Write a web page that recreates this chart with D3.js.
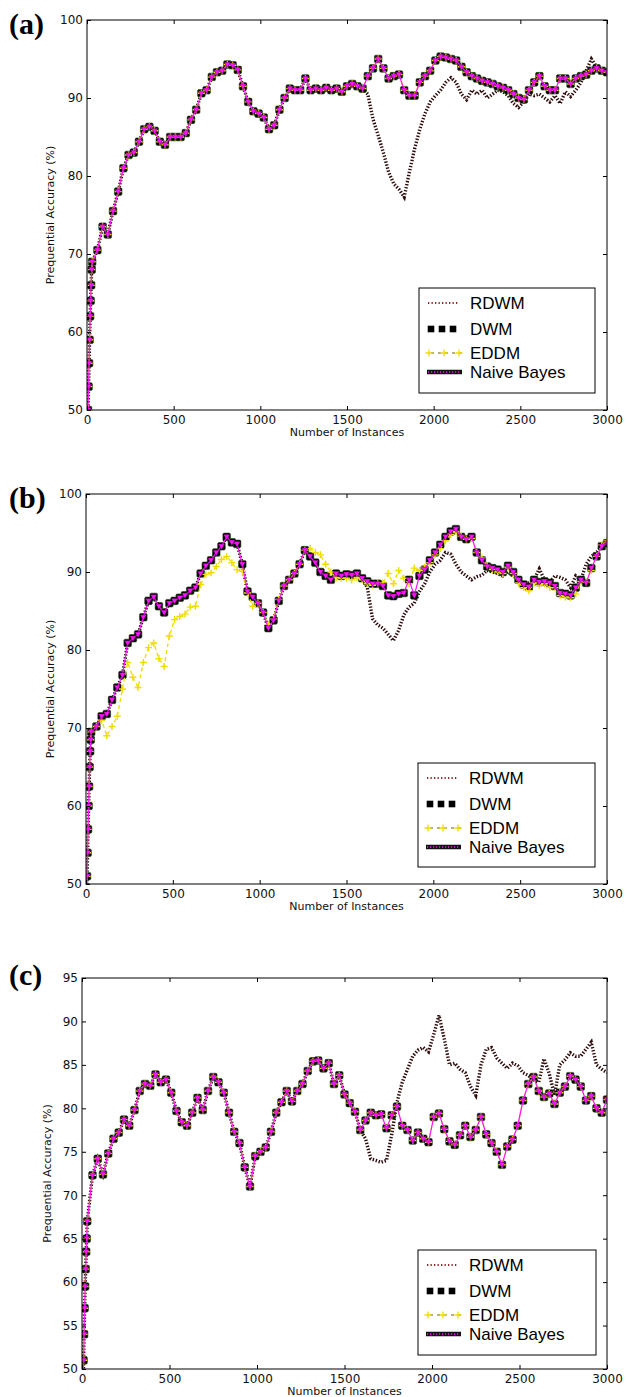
<!DOCTYPE html>
<html>
<head>
<meta charset="utf-8">
<script src="https://cdn.jsdelivr.net/npm/d3@7"></script>
<style>
  body { margin: 0; background: #fff; }
  svg { display: block; }
</style>
</head>
<body>
<svg id="fig" width="627" height="1397"></svg>
<script>
// Sample positions (number of instances seen) shared by every series
const instances = [3, 6, 9, 12, 15, 18, 21, 24, 27].concat(d3.range(30, 3001, 30));

const xTicks = [0, 500, 1000, 1500, 2000, 2500, 3000];
const yTicksAB = [50, 60, 70, 80, 90, 100];
const yTicksC = [50, 55, 60, 65, 70, 75, 80, 85, 90, 95];
const seriesNames = ["RDWM", "DWM", "EDDM", "Naive Bayes"];
const panelLabels = ["(a)", "(b)", "(c)"];
const xTitle = "Number of Instances";
const yTitle = "Prequential Accuracy (%)";

// ---- panel (a): prequential accuracy (%) ----
const dwmA = [
  45, 50, 53, 56, 59, 62, 64, 66, 68,
  69, 70.5, 73.5, 72.5, 75.5, 78, 81, 82.7, 83, 84.4,
  86, 86.3, 85.8, 84.4, 84, 85, 85, 85, 85.5, 87.2,
  88.5, 90.6, 91, 92.7, 93.3, 93.5, 94.3, 94.2, 93.6, 91.5,
  89.5, 88.3, 88, 87.5, 86, 86.5, 88.5, 90, 91.2, 91,
  91, 92.5, 91, 91.2, 91, 91.3, 91, 91.2, 90.8, 91.5,
  91.8, 91.5, 91.2, 92.8, 93.8, 95, 93.8, 92.5, 92.8, 93,
  91, 90.3, 90.3, 92, 92.8, 93.5, 94.8, 95.3, 95.2, 95,
  94.8, 94, 93.3, 92.8, 92.5, 92.2, 92, 91.8, 91.5, 91.3,
  91, 90.5, 90, 89.8, 91, 92, 92.8, 91.5, 91, 91,
  92.5, 92.5, 91.8, 92.5, 92.8, 93, 93.5, 93.8, 93.5, 93.3
];
const rdwmA = [
  45, 50, 53, 56, 59, 62, 64, 66, 68,
  69, 70.5, 73.5, 72.5, 75.5, 78, 81, 82.7, 83, 84.4,
  86, 86.3, 85.8, 84.4, 84, 85, 85, 85, 85.5, 87.2,
  88.5, 90.6, 91, 92.7, 93.3, 93.5, 94.3, 94.2, 93.6, 91.5,
  89.5, 88.3, 88, 87.5, 86, 86.5, 88.5, 90, 91.2, 91,
  91, 92.5, 91, 91.2, 91, 91.3, 91, 91.2, 90.8, 91.5,
  91.8, 91.5, 91.2, 90.5, 87.3, 85.2, 83, 80.5, 79, 78.3,
  77.3, 80.5, 83.5, 86, 88, 89.5, 90.3, 91, 92, 92.6,
  92, 90.5, 89.8, 91, 90.5, 91, 90, 90.5, 91, 90.8,
  90.3, 89.3, 88.8, 89.5, 90.5, 90.3, 90.5, 90, 89.5, 90.3,
  89.3, 90.8, 90.2, 91, 92, 93.5, 95, 94, 93.5, 93.5
];
const eddmA = [
  45, 50, 53, 56, 59, 62, 64, 66, 68,
  69, 70.5, 73.5, 72.5, 75.5, 78, 81, 82.7, 83, 84.4,
  86, 86.3, 85.8, 84.4, 84, 85, 85, 85, 85.5, 87.2,
  88.5, 90.6, 91, 92.7, 93.3, 93.5, 94.3, 94.2, 93.6, 91.5,
  89.5, 88.3, 88, 87.5, 86, 86.5, 88.5, 90, 91.2, 91,
  91, 92.5, 91, 91.2, 91, 91.3, 91, 91.2, 90.8, 91.5,
  91.8, 91.5, 91.2, 92.8, 93.8, 95, 93.8, 92.5, 92.8, 93,
  91, 90.3, 90.3, 92, 92.8, 93.5, 94.8, 95.3, 95.2, 95,
  94.8, 94, 93.3, 92.8, 92.5, 92.2, 92, 91.8, 91.5, 91.3,
  91, 90.5, 90, 89.8, 91, 92, 92.8, 91.5, 91, 91,
  92.5, 92.5, 91.8, 92.5, 92.8, 93, 93.5, 93.8, 93.5, 93.3
];
const nbA = [
  45, 50, 53, 56, 59, 62, 64, 66, 68,
  69, 70.5, 73.5, 72.5, 75.5, 78, 81, 82.7, 83, 84.4,
  86, 86.3, 85.8, 84.4, 84, 85, 85, 85, 85.5, 87.2,
  88.5, 90.6, 91, 92.7, 93.3, 93.5, 94.3, 94.2, 93.6, 91.5,
  89.5, 88.3, 88, 87.5, 86, 86.5, 88.5, 90, 91.2, 91,
  91, 92.5, 91, 91.2, 91, 91.3, 91, 91.2, 90.8, 91.5,
  91.8, 91.5, 91.2, 92.8, 93.8, 95, 93.8, 92.5, 92.8, 93,
  91, 90.3, 90.3, 92, 92.8, 93.5, 94.8, 95.3, 95.2, 95,
  94.8, 94, 93.3, 92.8, 92.5, 92.2, 92, 91.8, 91.5, 91.3,
  91, 90.5, 90, 89.8, 91, 92, 92.8, 91.5, 91, 91,
  92.5, 92.5, 91.8, 92.5, 92.8, 93, 93.5, 93.8, 93.5, 93.3
];

// ---- panel (b) ----
const dwmB = [
  46, 51, 54, 57, 60, 62.5, 65, 67, 68.5,
  69.5, 70.2, 71.5, 71.8, 73.6, 75.2, 76.8, 80.9, 81.5, 82,
  84.2, 86.3, 86.8, 85.6, 84.8, 86, 86.3, 86.7, 87, 87.6,
  88, 89.8, 90.8, 91.5, 92.5, 93.3, 94.5, 93.8, 93.6, 91,
  87.5, 86.8, 86, 84.8, 82.8, 83.8, 86.3, 88.2, 89, 89.8,
  91, 92.8, 92, 91.2, 90, 89.5, 89, 89.8, 89.5, 89.7,
  89.6, 89.8, 89.2, 88.8, 88.5, 88.5, 88.2, 87, 86.9, 87.2,
  87.3, 89, 87, 89.5, 90.3, 91.5, 92.5, 93.5, 94.5, 95.2,
  95.5, 94.5, 94.2, 94.5, 92.5, 91.5, 90.7, 90.5, 90.3, 90,
  90.8, 90, 89, 88.4, 88.1, 89, 88.7, 88.8, 88.6, 88.2,
  87.3, 87.2, 87, 88, 89, 88.6, 90.5, 92, 93.3, 93.7
];
const rdwmB = [
  46, 51, 54, 57, 60, 62.5, 65, 67, 68.5,
  69.5, 70.2, 71.5, 71.8, 73.6, 75.2, 76.8, 80.9, 81.5, 82,
  84.2, 86.3, 86.8, 85.6, 84.8, 86, 86.3, 86.7, 87, 87.6,
  88, 89.8, 90.8, 91.5, 92.5, 93.3, 94.5, 93.8, 93.6, 91,
  87.5, 86.8, 86, 84.8, 82.8, 83.8, 86.3, 88.2, 89, 89.8,
  91, 92.8, 92, 91.2, 90, 89.5, 89, 89.8, 89.5, 89.7,
  89.6, 89.8, 89.2, 88, 84, 83.2, 82.8, 82, 81.2, 82.5,
  84.5, 85.5, 86, 87.5, 88.5, 90, 91, 91.5, 92.5, 92.3,
  91, 90, 89.5, 89, 89.4, 89.6, 90.2, 90, 89.8, 89.5,
  90, 89.5, 89, 88.6, 88.6, 89, 90.4, 89, 88.7, 89.5,
  89.3, 89, 88, 89.5, 89, 91, 92, 92.5, 93.3, 93.6
];
const eddmB = [
  46, 51, 54, 57, 60, 62.5, 65, 67, 68.5,
  69.5, 70.2, 71, 69, 70.2, 71.5, 75, 78.4, 76.5, 75.2,
  78.4, 80.3, 80.9, 78.9, 77.9, 81.8, 83.9, 84.3, 84.6, 85.5,
  85.6, 88.4, 89.7, 89.9, 90.7, 91.6, 92, 91.2, 90.3, 90.1,
  87.3, 85.6, 86, 84.8, 83.3, 84, 86.5, 88.2, 89, 89.8,
  91, 92.8, 93, 92.5, 92.2, 91, 90, 89.3, 89.2, 89.2,
  89, 89.3, 89, 88.5, 88.3, 88.5, 88.6, 89.8, 88.5, 90.2,
  89.2, 88.5, 90.5, 90.2, 90.6, 91.2, 92.2, 93, 94, 94.8,
  95.2, 94.6, 94.2, 94.3, 92.5, 91.8, 90.8, 90.3, 90, 89.8,
  90.6, 89.8, 88.6, 88, 87.6, 88.6, 88.3, 88.5, 88, 88,
  87, 86.8, 86.7, 87.2, 88.8, 88.7, 90.2, 92, 93.5, 94
];
const nbB = [
  46, 51, 54, 57, 60, 62.5, 65, 67, 68.5,
  69.5, 70.2, 71.5, 71.8, 73.6, 75.2, 76.8, 80.9, 81.5, 82,
  84.2, 86.3, 86.8, 85.6, 84.8, 86, 86.3, 86.7, 87, 87.6,
  88, 89.8, 90.8, 91.5, 92.5, 93.3, 94.5, 93.8, 93.6, 91,
  87.5, 86.8, 86, 84.8, 82.8, 83.8, 86.3, 88.2, 89, 89.8,
  91, 92.8, 92, 91.2, 90, 89.5, 89, 89.8, 89.5, 89.7,
  89.6, 89.8, 89.2, 88.8, 88.5, 88.5, 88.2, 87, 86.9, 87.2,
  87.3, 89, 87, 89.5, 90.3, 91.5, 92.5, 93.5, 94.5, 95.2,
  95.5, 94.5, 94.2, 94.5, 92.5, 91.5, 90.7, 90.5, 90.3, 90,
  90.8, 90, 89, 88.4, 88.1, 89, 88.7, 88.8, 88.6, 88.2,
  87.3, 87.2, 87, 88, 89, 88.6, 90.5, 92, 93.3, 93.7
];

// ---- panel (c) ----
const dwmC = [
  44, 48, 51, 54, 57, 59.5, 61.5, 63.5, 65,
  67, 72.3, 74.2, 72.4, 74.8, 76.5, 77.2, 78.7, 78, 79.8,
  82, 82.8, 82.6, 83.9, 83, 83.3, 81.8, 79.7, 78.4, 78,
  79.5, 81.2, 79.8, 82, 83.6, 83, 81.8, 79.5, 77.3, 76,
  73.2, 71, 74.5, 75, 75.5, 77.3, 79.5, 80.7, 82, 80.8,
  82, 82.8, 84.3, 85.4, 85.5, 84.6, 85.2, 82.8, 83.8, 81.6,
  80.6, 79.6, 77.5, 78.6, 79.5, 79.2, 79.3, 77.7, 79.2, 80.2,
  78, 77.5, 76.3, 77.2, 76.5, 76.1, 79, 79.4, 77.6, 76.2,
  75.8, 76.9, 78, 76.7, 77.5, 79, 77, 76, 75, 73.5,
  75.6, 76.4, 78, 80.9, 82.8, 83.6, 82, 81.3, 81.7, 80.5,
  81.8, 82.5, 83.7, 83.3, 82.5, 80.9, 81.4, 80, 79.5, 81
];
const rdwmC = [
  44, 48, 51, 54, 57, 59.5, 61.5, 63.5, 65,
  67, 72.3, 74.2, 72.4, 74.8, 76.5, 77.2, 78.7, 78, 79.8,
  82, 82.8, 82.6, 83.9, 83, 83.3, 81.8, 79.7, 78.4, 78,
  79.5, 81.2, 79.8, 82, 83.6, 83, 81.8, 79.5, 77.3, 76,
  73.2, 71, 74.5, 75, 75.5, 77.3, 79.5, 80.7, 82, 80.8,
  82, 82.8, 84.3, 85.4, 85.5, 84.6, 85.2, 82.8, 83.8, 81.6,
  80.6, 79.6, 77.5, 76.5, 74.2, 74, 73.8, 74, 77, 80.7,
  83, 84.5, 86, 86.7, 87, 86.5, 88.5, 90.7, 88, 85,
  85.2, 84.5, 84.1, 82.5, 81.5, 85, 86.8, 87, 85.8, 85.2,
  84.6, 85.2, 84.9, 84.1, 83.8, 83.3, 83, 85.7, 84, 81.5,
  85, 85.6, 86.4, 86, 86, 86.8, 87.6, 85, 84.5, 84.1
];
const eddmC = [
  44, 48, 51, 54, 57, 59.5, 61.5, 63.5, 65,
  67, 72.3, 74.2, 72.4, 74.8, 76.5, 77.2, 78.7, 78, 79.8,
  82, 82.8, 82.6, 83.9, 83, 83.3, 81.8, 79.7, 78.4, 78,
  79.5, 81.2, 79.8, 82, 83.6, 83, 81.8, 79.5, 77.3, 76,
  73.2, 71, 74.5, 75, 75.5, 77.3, 79.5, 80.7, 82, 80.8,
  82, 82.8, 84.3, 85.4, 85.5, 84.6, 85.2, 82.8, 83.8, 81.6,
  80.6, 79.6, 77.5, 78.6, 79.5, 79.2, 79.3, 77.7, 79.2, 80.2,
  78, 77.5, 76.3, 77.2, 76.5, 76.1, 79, 79.4, 77.6, 76.2,
  75.8, 76.9, 78, 76.7, 77.5, 79, 77, 76, 75, 73.5,
  75.6, 76.4, 78, 80.9, 82.8, 83.6, 82, 81.3, 81.7, 80.5,
  81.8, 82.5, 83.7, 83.3, 82.5, 80.9, 81.4, 80, 79.5, 81
];
const nbC = [
  44, 48, 51, 54, 57, 59.5, 61.5, 63.5, 65,
  67, 72.3, 74.2, 72.4, 74.8, 76.5, 77.2, 78.7, 78, 79.8,
  82, 82.8, 82.6, 83.9, 83, 83.3, 81.8, 79.7, 78.4, 78,
  79.5, 81.2, 79.8, 82, 83.6, 83, 81.8, 79.5, 77.3, 76,
  73.2, 71, 74.5, 75, 75.5, 77.3, 79.5, 80.7, 82, 80.8,
  82, 82.8, 84.3, 85.4, 85.5, 84.6, 85.2, 82.8, 83.8, 81.6,
  80.6, 79.6, 77.5, 78.6, 79.5, 79.2, 79.3, 77.7, 79.2, 80.2,
  78, 77.5, 76.3, 77.2, 76.5, 76.1, 79, 79.4, 77.6, 76.2,
  75.8, 76.9, 78, 76.7, 77.5, 79, 77, 76, 75, 73.5,
  75.6, 76.4, 78, 80.9, 82.8, 83.6, 82, 81.3, 81.7, 80.5,
  81.8, 82.5, 83.7, 83.3, 82.5, 80.9, 81.4, 80, 79.5, 81
];

// ---- layout of the three stacked panels ----
const panels = [
  { id: "a", label: panelLabels[0], labelY: 34, left: 87, right: 607, top: 20, bottom: 410,
    yDomain: [50, 100], yTicks: yTicksAB, yTitleX: 50,
    legend: { x: 419, y: 288, w: 176, h: 105 },
    rdwm: rdwmA, dwm: dwmA, eddm: eddmA, nb: nbA },
  { id: "b", label: panelLabels[1], labelY: 508, left: 86, right: 607, top: 494, bottom: 884,
    yDomain: [50, 100], yTicks: yTicksAB, yTitleX: 50,
    legend: { x: 418, y: 763, w: 177, h: 104 },
    rdwm: rdwmB, dwm: dwmB, eddm: eddmB, nb: nbB },
  { id: "c", label: panelLabels[2], labelY: 985, left: 82, right: 607, top: 978, bottom: 1369,
    yDomain: [50, 95], yTicks: yTicksC, yTitleX: 47,
    legend: { x: 418, y: 1250, w: 178, h: 105 },
    rdwm: rdwmC, dwm: dwmC, eddm: eddmC, nb: nbC }
];

const svg = d3.select("#fig");
const tickFont = "'DejaVu Sans', sans-serif";
const defs = svg.append("defs");

const RDWM_COLOR = "#2e0a0a";
const EDDM_COLOR = "#f0dc00";
const NB_COLOR = "#ff14ff";

const plusPath = "M-3.5,0H3.5M0,-3.5V3.5";
const triPath = "M-3.2,-2.3L3.2,-2.3L0,3.2Z";

function drawPanel(p) {
  const x = d3.scaleLinear().domain([0, 3000]).range([p.left, p.right]);
  const y = d3.scaleLinear().domain(p.yDomain).range([p.bottom, p.top]);
  const g = svg.append("g").attr("class", "panel-" + p.id);

  defs.append("clipPath").attr("id", "clip-" + p.id)
    .append("rect")
    .attr("x", p.left).attr("y", p.top)
    .attr("width", p.right - p.left).attr("height", p.bottom - p.top);

  const plot = g.append("g").attr("clip-path", `url(#clip-${p.id})`);
  const pts = vals => instances.map((t, i) => [t, vals[i]]).filter(d => d[1] != null);
  const line = d3.line().x(d => x(d[0])).y(d => y(d[1]));

  // RDWM: heavy dotted dark line
  plot.append("path")
    .attr("d", line(pts(p.rdwm)))
    .attr("fill", "none")
    .attr("stroke", RDWM_COLOR)
    .attr("stroke-width", 3.4)
    .attr("stroke-dasharray", "1.4 1.7");

  // DWM: black square markers
  plot.append("g").selectAll("rect")
    .data(pts(p.dwm))
    .join("rect")
    .attr("x", d => x(d[0]) - 3.8)
    .attr("y", d => y(d[1]) - 3.8)
    .attr("width", 7.6).attr("height", 7.6)
    .attr("rx", 1.4)
    .attr("fill", "#000")
    .attr("stroke", "#1f4a14")
    .attr("stroke-width", 0.6);

  // EDDM: yellow dashed line with plus markers
  plot.append("path")
    .attr("d", line(pts(p.eddm)))
    .attr("fill", "none")
    .attr("stroke", EDDM_COLOR)
    .attr("stroke-width", 1.3)
    .attr("stroke-dasharray", "4 3");
  plot.append("g").selectAll("path")
    .data(pts(p.eddm))
    .join("path")
    .attr("transform", d => `translate(${x(d[0])},${y(d[1])})`)
    .attr("d", plusPath)
    .attr("stroke", EDDM_COLOR)
    .attr("stroke-width", 1.4)
    .attr("fill", "none");

  // Naive Bayes: magenta line with down-pointing triangles
  plot.append("path")
    .attr("d", line(pts(p.nb)))
    .attr("fill", "none")
    .attr("stroke", NB_COLOR)
    .attr("stroke-width", 1.2);
  plot.append("g").selectAll("path")
    .data(pts(p.nb))
    .join("path")
    .attr("transform", d => `translate(${x(d[0])},${y(d[1])})`)
    .attr("d", triPath)
    .attr("fill", NB_COLOR)
    .attr("stroke", "#3a003a")
    .attr("stroke-width", 0.4);

  // Axes with inward ticks on all four sides
  const styleAxis = sel => {
    sel.select(".domain").remove();
    sel.selectAll(".tick line").attr("stroke", "#000");
    sel.selectAll(".tick text").attr("font-family", tickFont).attr("font-size", 12).attr("fill", "#111");
  };
  g.append("g").attr("transform", `translate(0,${p.bottom})`)
    .call(d3.axisBottom(x).tickValues(xTicks).tickSize(-4).tickPadding(5).tickFormat(d3.format("d")))
    .call(styleAxis);
  g.append("g").attr("transform", `translate(0,${p.top})`)
    .call(d3.axisTop(x).tickValues(xTicks).tickSize(-4).tickFormat(""))
    .call(styleAxis);
  g.append("g").attr("transform", `translate(${p.left},0)`)
    .call(d3.axisLeft(y).tickValues(p.yTicks).tickSize(-4).tickPadding(4).tickFormat(d3.format("d")))
    .call(styleAxis);
  g.append("g").attr("transform", `translate(${p.right},0)`)
    .call(d3.axisRight(y).tickValues(p.yTicks).tickSize(-4).tickFormat(""))
    .call(styleAxis);

  // Frame
  g.append("rect")
    .attr("x", p.left).attr("y", p.top)
    .attr("width", p.right - p.left).attr("height", p.bottom - p.top)
    .attr("fill", "none").attr("stroke", "#000").attr("stroke-width", 1);

  // Axis titles
  g.append("text")
    .attr("x", (p.left + p.right) / 2)
    .attr("y", p.bottom + 26)
    .attr("text-anchor", "middle")
    .attr("font-family", tickFont).attr("font-size", 11).attr("fill", "#111")
    .text(xTitle);
  g.append("text")
    .attr("transform", `translate(${p.yTitleX},${(p.top + p.bottom) / 2}) rotate(-90)`)
    .attr("text-anchor", "middle")
    .attr("dy", "0.35em")
    .attr("font-family", tickFont).attr("font-size", 11).attr("fill", "#111")
    .text(yTitle);

  // Panel letter
  svg.append("text")
    .attr("x", 9).attr("y", p.labelY)
    .attr("font-family", "'Liberation Serif', 'Times New Roman', serif")
    .attr("font-weight", "bold")
    .attr("font-size", 30)
    .attr("fill", "#000")
    .text(p.label);

  // Legend
  const L = p.legend;
  const lg = g.append("g");
  lg.append("rect")
    .attr("x", L.x).attr("y", L.y).attr("width", L.w).attr("height", L.h)
    .attr("fill", "#fff").attr("stroke", "#000").attr("stroke-width", 1);
  const rowY = [15, 41, 65, 84].map(o => L.y + o);
  const sx0 = L.x + 8, sx1 = L.x + 43;

  // RDWM sample
  lg.append("line").attr("x1", sx0 + 1).attr("x2", sx1 - 4).attr("y1", rowY[0]).attr("y2", rowY[0])
    .attr("stroke", "#8c2a2a").attr("stroke-width", 2).attr("stroke-dasharray", "1.3 2.2");
  // DWM sample
  lg.append("g").selectAll("rect").data([4, 15, 26]).join("rect")
    .attr("x", d => sx0 + d - 3.3).attr("y", rowY[1] - 3.3)
    .attr("width", 6.6).attr("height", 6.6).attr("fill", "#000");
  // EDDM sample
  lg.append("line").attr("x1", sx0).attr("x2", sx1).attr("y1", rowY[2]).attr("y2", rowY[2])
    .attr("stroke", "#6a6000").attr("stroke-width", 1).attr("stroke-dasharray", "3 4").attr("stroke-dashoffset", -4);
  lg.append("g").selectAll("path").data([2, 17, 32]).join("path")
    .attr("transform", d => `translate(${sx0 + d},${rowY[2]})`)
    .attr("d", plusPath).attr("stroke", EDDM_COLOR).attr("stroke-width", 1.3).attr("fill", "none");
  // Naive Bayes sample
  lg.append("line").attr("x1", sx0).attr("x2", sx1).attr("y1", rowY[3]).attr("y2", rowY[3])
    .attr("stroke", "#111").attr("stroke-width", 4.5);
  lg.append("line").attr("x1", sx0 + 1).attr("x2", sx1 - 1).attr("y1", rowY[3]).attr("y2", rowY[3])
    .attr("stroke", NB_COLOR).attr("stroke-width", 1.4).attr("stroke-dasharray", "1.2 1.8");

  lg.selectAll("text.lbl").data(seriesNames).join("text")
    .attr("class", "lbl")
    .attr("x", L.x + 51)
    .attr("y", (d, i) => rowY[i])
    .attr("dy", "0.36em")
    .attr("font-family", "'Liberation Sans', Arial, sans-serif")
    .attr("font-size", 17)
    .attr("fill", "#000")
    .text(d => d);
}

panels.forEach(drawPanel);
</script>
</body>
</html>
